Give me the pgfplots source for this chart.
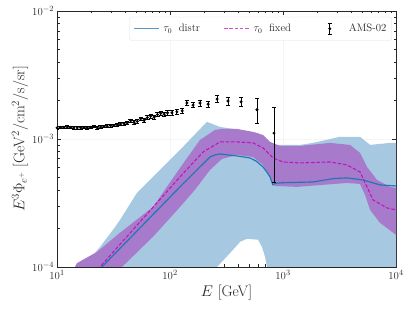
\documentclass[border=0pt]{standalone}
\usepackage{pgfplots}
\pgfplotsset{compat=1.18}
\definecolor{bandblue}{RGB}{166,200,224}
\definecolor{bandpurple}{RGB}{168,122,204}
\definecolor{lineblue}{RGB}{31,119,180}
\definecolor{dashmag}{RGB}{190,20,190}
\definecolor{txt}{RGB}{38,38,38}
\pgfplotstableread{
E F e
10.0 1.220e-3 0.025e-3
10.7 1.230e-3 0.025e-3
11.5 1.232e-3 0.025e-3
12.3 1.240e-3 0.025e-3
13.2 1.230e-3 0.025e-3
14.1 1.222e-3 0.025e-3
15.1 1.220e-3 0.025e-3
16.2 1.222e-3 0.025e-3
17.3 1.228e-3 0.026e-3
18.5 1.220e-3 0.026e-3
19.8 1.232e-3 0.027e-3
21.2 1.250e-3 0.027e-3
22.7 1.220e-3 0.028e-3
24.3 1.238e-3 0.028e-3
26.0 1.250e-3 0.029e-3
27.8 1.258e-3 0.030e-3
29.8 1.268e-3 0.031e-3
31.9 1.276e-3 0.032e-3
34.1 1.290e-3 0.033e-3
36.5 1.308e-3 0.035e-3
39.1 1.318e-3 0.036e-3
41.8 1.335e-3 0.038e-3
44.8 1.390e-3 0.040e-3
48.0 1.350e-3 0.042e-3
51.3 1.372e-3 0.044e-3
55.0 1.440e-3 0.046e-3
58.9 1.400e-3 0.048e-3
63.0 1.470e-3 0.050e-3
67.5 1.510e-3 0.053e-3
72.2 1.480e-3 0.056e-3
77.4 1.550e-3 0.058e-3
82.8 1.590e-3 0.060e-3
88.7 1.560e-3 0.063e-3
95.0 1.600e-3 0.066e-3
104 1.600e-3 0.07e-3
115 1.630e-3 0.07e-3
128 1.660e-3 0.08e-3
141 1.910e-3 0.09e-3
160 1.840e-3 0.09e-3
184 1.910e-3 0.10e-3
217 1.870e-3 0.11e-3
261 2.050e-3 0.12e-3
326 1.980e-3 0.14e-3
425 1.950e-3 0.17e-3
589 1.690e-3 0.37e-3
832 1.110e-3 0.65e-3
}\amsdata
\begin{document}
\begin{tikzpicture}
\begin{axis}[
 at={(0,0)}, anchor=south west,
 scale only axis, width=377.5pt, height=285pt,
 xmode=log, ymode=log, xmin=10, xmax=1e4, ymin=1e-4, ymax=1e-2,
 tick align=inside,
 major tick length=5pt, minor tick length=2.8pt,
 every tick/.style={txt, line width=0.6pt},
 axis line style={txt, line width=0.8pt},
 grid=major, major grid style={gray!8, line width=0.5pt},
 ticklabel style={font=\fontsize{12.5}{14}\selectfont, text=txt},
 label style={font=\fontsize{17}{20}\selectfont, text=txt},
 xlabel={$E$ [GeV]},
 ylabel={$E^3\Phi_{e^+}$ [GeV$^2$/cm$^2$/s/sr]},
 xlabel style={at={(axis description cs:0.5,-0.117)}, anchor=base},
 ylabel style={at={(axis description cs:-0.109,0.5)}, anchor=center},
 legend columns=3,
 legend style={at={(0.988,0.977)}, anchor=north east, draw=gray!25, rounded corners=2pt, fill=white,
   font=\fontsize{12}{13}\selectfont, text=txt,
   /tikz/every even column/.append style={column sep=24pt},
   /tikz/every odd column/.append style={column sep=2pt},
   inner xsep=4pt, inner ysep=6pt},
 legend cell align=left,
]
\addplot[fill=bandblue, draw=none, forget plot] coordinates {
(17,8e-5) (21.7,1.29e-4) (24.0,1.43e-4) (31.3,1.95e-4) (36.1,2.33e-4) (51.0,3.79e-4) (66.5,4.78e-4) (100,6.85e-4) (122.5,8.20e-4) (212,1.36e-3) (277,1.24e-3) (361,1.20e-3) (601,1.11e-3) (767,9.40e-4) (850,9.0e-4) (1413,8.98e-4) (1841,9.31e-4) (3192,1.04e-3) (4800,1.04e-3) (5890,8.98e-4) (8850,9.31e-4) (10000,9.31e-4)
(10000,5e-5) (740,5e-5) (722,1e-4) (693,1.20e-4) (652,1.43e-4) (601,1.63e-4) (480,1.66e-4) (416,1.57e-4) (361,1.36e-4) (261,1e-4) (250,5e-5) (17,5e-5)
} -- cycle;
\addplot[fill=bandpurple, draw=none, forget plot] coordinates {
(14,9.5e-5) (15.0,1.07e-4) (22.6,1.31e-4) (36.1,1.85e-4) (70.7,2.94e-4) (122.5,5.93e-4) (184,9.82e-4) (250,1.175e-3) (288,1.197e-3) (392,1.197e-3) (543,1.135e-3) (665,1.074e-3) (767,9.48e-4) (940,8.82e-4) (1413,8.82e-4) (2606,9.31e-4) (3917,8.98e-4) (4800,7.78e-4) (5535,6.04e-4) (6790,4.78e-4) (8850,4.22e-4) (10000,4.14e-4)
(10000,1.78e-4) (7215,2.21e-4) (5890,2.79e-4) (5320,3.65e-4) (4800,4.45e-4) (3683,4.53e-4) (1330,4.22e-4) (850,4.29e-4) (767,4.96e-4) (665,6.26e-4) (543,7.23e-4) (392,7.50e-4) (288,6.98e-4) (226,5.73e-4) (166,4.00e-4) (122.5,2.94e-4) (70.7,1.72e-4) (37.6,1e-4) (34,9e-5)
} -- cycle;
\addplot[lineblue, line width=1.3pt,
 legend image code/.code={\draw[lineblue!75, line width=1.7pt] (0pt,0pt) -- (28pt,0pt);}] coordinates {
(24,9.6e-5) (25.0,1e-4) (122.5,4.22e-4) (150,5.05e-4) (184,6.04e-4) (226,7.23e-4) (250,7.5e-4) (277,7.63e-4) (392,7.36e-4) (511,7.10e-4) (580,6.7e-4) (665,6.04e-4) (720,5.5e-4) (767,5.05e-4) (795,4.6e-4) (816,4.37e-4) (850,4.50e-4) (1000,4.55e-4) (1841,4.61e-4) (2800,4.9e-4) (3683,4.96e-4) (5100,4.78e-4) (7215,4.37e-4) (10000,4.29e-4)
};
\addlegendentry{$\tau_0$\hspace{3.5pt} distr}
\addplot[dashmag, line width=1.2pt, dash pattern=on 4pt off 2pt,
 legend image code/.code={\draw[dashmag!75, line width=1.6pt, dash pattern=on 4pt off 1.8pt] (0pt,0pt) -- (28pt,0pt);}] coordinates {
(23,9.5e-5) (24.0,1e-4) (122.5,5.05e-4) (196,7.91e-4) (277,9.48e-4) (392,9.48e-4) (543,9.31e-4) (665,8.51e-4) (816,7.10e-4) (1000,6.61e-4) (1413,6.49e-4) (2606,6.61e-4) (3683,6.26e-4) (4800,5.52e-4) (5535,4.22e-4) (6255,3.34e-4) (8320,2.89e-4) (10000,2.79e-4)
};
\addlegendentry{$\tau_0$\hspace{3.5pt} fixed}
\addplot[black, only marks, mark=*, mark size=1.5pt,
 legend image code/.code={\path (0pt,0pt) (34pt,0pt); \draw[black, line width=0.9pt] (17pt,-6pt) -- (17pt,6pt) (14.5pt,-6pt) -- (19.5pt,-6pt) (14.5pt,6pt) -- (19.5pt,6pt); \fill[black] (17pt,0pt) circle (1.5pt);},
 error bars/.cd, y dir=both, y explicit,
 error bar style={line width=0.9pt, black},
 error mark options={black, mark size=2.4pt, line width=0.9pt, rotate=90}]
 table[x=E, y=F, y error=e] {\amsdata};
\addlegendentry{AMS-02}
\end{axis}
\pgfresetboundingbox
\path[use as bounding box] (-63.5pt,-47.9pt) rectangle (396.4pt,297.2pt);
\end{tikzpicture}
\end{document}
